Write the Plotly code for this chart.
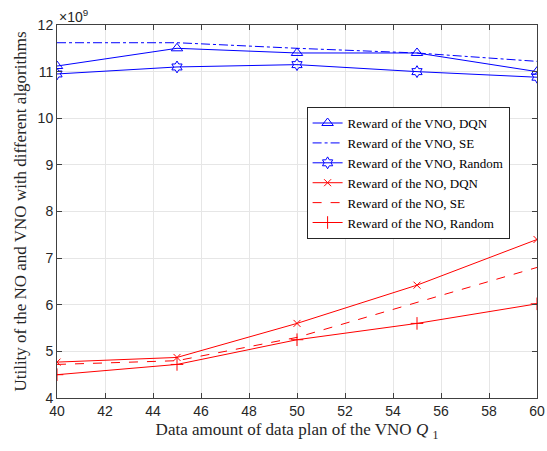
import plotly.graph_objects as go

x_vals = [40, 45, 50, 55, 60]
vno_dqn = [11.12, 11.50, 11.40, 11.40, 11.00]
vno_se = [11.62, 11.62, 11.50, 11.40, 11.22]
vno_random = [10.95, 11.10, 11.15, 11.00, 10.88]
no_dqn = [4.77, 4.87, 5.60, 6.42, 7.40]
no_se = [4.72, 4.80, 5.30, 6.05, 6.80]
no_random = [4.50, 4.72, 5.25, 5.60, 6.02]

x_ticks = list(range(40, 61, 2))
y_ticks = list(range(4, 13))

BLUE = "#0000FF"
RED = "#FF0000"

fig = go.Figure()
series = [
    ("Reward of the VNO, DQN", vno_dqn, BLUE, "solid", "triangle-up-open", 10),
    ("Reward of the VNO, SE", vno_se, BLUE, "dashdot", None, 0),
    ("Reward of the VNO, Random", vno_random, BLUE, "solid", "hexagram-open", 9),
    ("Reward of the NO, DQN", no_dqn, RED, "solid", "x-thin-open", 7),
    ("Reward of the NO, SE", no_se, RED, "dash", None, 0),
    ("Reward of the NO, Random", no_random, RED, "solid", "cross-thin-open", 9),
]
for name, ys, col, dash, sym, sz in series:
    if sym:
        fig.add_trace(go.Scatter(
            x=x_vals, y=ys, name=name, mode="lines+markers",
            line=dict(color=col, width=1, dash=dash),
            marker=dict(symbol=sym, size=sz, color=col, line=dict(color=col, width=1)),
        ))
    else:
        fig.add_trace(go.Scatter(
            x=x_vals, y=ys, name=name, mode="lines",
            line=dict(color=col, width=1, dash=dash),
        ))

axis_common = dict(
    showgrid=True, gridcolor="#E6E6E6", gridwidth=1,
    showline=True, linecolor="#404040", linewidth=1, mirror="ticks",
    ticks="inside", ticklen=5, tickcolor="#404040",
    tickfont=dict(family="Liberation Sans, Arial", size=14, color="#262626"),
    zeroline=False, automargin=False,
)

fig.update_layout(
    width=547, height=451,
    margin=dict(l=57, r=10, t=25, b=53),
    paper_bgcolor="white", plot_bgcolor="white",
    xaxis=dict(range=[40, 60], tickvals=x_ticks, **axis_common,
               title=dict(text="Data amount of data plan of the VNO <i>Q</i> <sub>1</sub>",
                          font=dict(family="Liberation Serif, Times New Roman", size=17, color="#262626"),
                          standoff=5)),
    yaxis=dict(range=[4, 12], tickvals=y_ticks, **axis_common,
               title=dict(text="Utility of the NO and VNO with different algorithms",
                          font=dict(family="Liberation Serif, Times New Roman", size=17, color="#262626"),
                          standoff=6)),
    legend=dict(x=0.52, y=0.78, xanchor="left", yanchor="top",
                bgcolor="white", bordercolor="#262626", borderwidth=1,
                font=dict(family="Liberation Serif, Times New Roman", size=13, color="#000000"),
                tracegroupgap=0, itemwidth=30),
    showlegend=True,
    annotations=[dict(text="×10<sup>9</sup>", x=0, y=1, xref="paper", yref="paper",
                      xanchor="left", yanchor="bottom", showarrow=False,
                      font=dict(family="Liberation Sans, Arial", size=14, color="#262626"),
                      yshift=-2)],
)

fig.write_html("out.html")
